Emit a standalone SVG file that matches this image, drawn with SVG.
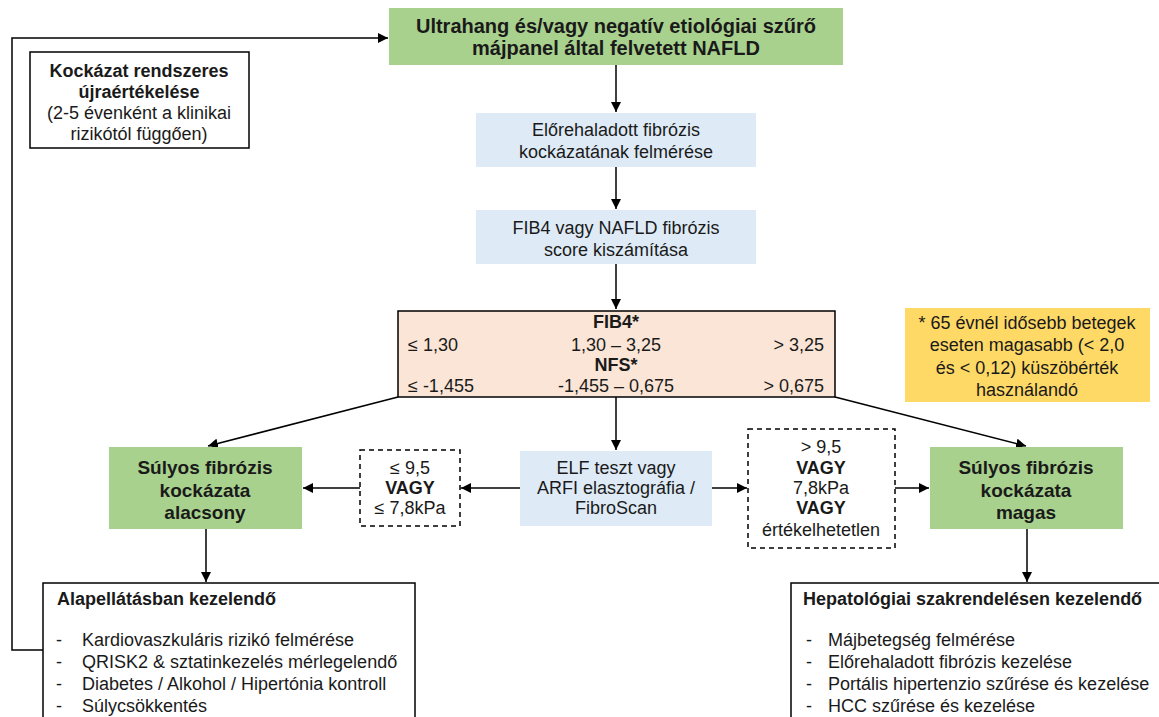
<svg xmlns="http://www.w3.org/2000/svg" width="1159" height="717" viewBox="0 0 1159 717">
<defs>
<marker id="ah" viewBox="0 0 10 10" refX="10" refY="5" markerWidth="10" markerHeight="10" markerUnits="userSpaceOnUse" orient="auto">
<path d="M0,0 L10,5 L0,10 z" fill="#000"/>
</marker>
<style>
text{font-family:"Liberation Sans",Arial,sans-serif;fill:#1a1a1a;}
.t{font-size:18px;}
.h{font-size:19px;font-weight:bold;}
.b{font-weight:bold;}
.c{text-anchor:middle;}
.g{fill:#a9d18e;}
.lb{fill:#deebf7;}
.w{fill:#fff;stroke:#000;stroke-width:1.5;}
.d{fill:#fff;stroke:#000;stroke-width:1.5;stroke-dasharray:5,4;}
.ln{fill:none;stroke:#000;stroke-width:1.5;}
</style>
</defs>
<rect width="1159" height="717" fill="#fff"/>
<g id="connectors">
<path class="ln" d="M43,650 H12 V38 H388" marker-end="url(#ah)"/>
<path class="ln" d="M616,65 V112" marker-end="url(#ah)"/>
<path class="ln" d="M616,167 V209" marker-end="url(#ah)"/>
<path class="ln" d="M616,264 V309" marker-end="url(#ah)"/>
<path class="ln" d="M398,397 L208,446" marker-end="url(#ah)"/>
<path class="ln" d="M835,397 L1026,446" marker-end="url(#ah)"/>
<path class="ln" d="M616,397 V450" marker-end="url(#ah)"/>
<path class="ln" d="M520,488 H461" marker-end="url(#ah)"/>
<path class="ln" d="M360,488 H303" marker-end="url(#ah)"/>
<path class="ln" d="M712,488 H747" marker-end="url(#ah)"/>
<path class="ln" d="M895,488 H929" marker-end="url(#ah)"/>
<path class="ln" d="M206,529 V582" marker-end="url(#ah)"/>
<path class="ln" d="M1027,529 V582" marker-end="url(#ah)"/>
</g>
<g id="n-top">
<rect class="g" x="389" y="8" width="454" height="57"/>
<text class="c" x="616" y="33" font-size="20" font-weight="bold">Ultrahang és/vagy negatív etiológiai szűrő</text>
<text class="c" x="616" y="55" font-size="20" font-weight="bold">májpanel által felvetett NAFLD</text>
</g>
<g id="n-kockazat">
<rect class="w" x="30" y="52" width="219" height="96"/>
<text class="t b c" x="139" y="77">Kockázat rendszeres</text>
<text class="t b c" x="139" y="98">újraértékelése</text>
<text class="t c" x="139" y="119">(2-5 évenként a klinikai</text>
<text class="t c" x="139" y="140">rizikótól függően)</text>
</g>
<g id="n-elorehaladott">
<rect class="lb" x="476" y="113" width="280" height="54"/>
<text class="t c" x="616" y="136">Előrehaladott fibrózis</text>
<text class="t c" x="616" y="158">kockázatának felmérése</text>
</g>
<g id="n-fib4calc">
<rect class="lb" x="476" y="210" width="280" height="54"/>
<text class="t c" x="616" y="234">FIB4 vagy NAFLD fibrózis</text>
<text class="t c" x="616" y="256">score kiszámítása</text>
</g>
<g id="n-fib4">
<rect x="398" y="311" width="437" height="86" fill="#fbe5d6" stroke="#000" stroke-width="1.5"/>
<text class="t b c" x="616" y="328">FIB4*</text>
<text class="t" x="408" y="351">≤ 1,30</text>
<text class="t c" x="616" y="351">1,30 – 3,25</text>
<text class="t" x="824" y="351" text-anchor="end">&gt; 3,25</text>
<text class="t b c" x="616" y="371">NFS*</text>
<text class="t" x="408" y="392">≤ -1,455</text>
<text class="t c" x="616" y="392">-1,455 – 0,675</text>
<text class="t" x="824" y="392" text-anchor="end">&gt; 0,675</text>
</g>
<g id="n-note">
<rect x="905" y="308" width="245" height="94" fill="#ffd966"/>
<text class="t c" x="1027" y="329">* 65 évnél idősebb betegek</text>
<text class="t c" x="1027" y="351">eseten magasabb (&lt; 2,0</text>
<text class="t c" x="1027" y="374">és &lt; 0,12) küszöbérték</text>
<text class="t c" x="1027" y="396">használandó</text>
</g>
<g id="n-low">
<rect class="g" x="109" y="447" width="193" height="82"/>
<text class="h c" x="205" y="474">Súlyos fibrózis</text>
<text class="h c" x="205" y="497">kockázata</text>
<text class="h c" x="205" y="519">alacsony</text>
</g>
<g id="n-dlow">
<rect class="d" x="360" y="450" width="100" height="76"/>
<text class="t c" x="410" y="474">≤ 9,5</text>
<text class="t b c" x="410" y="494">VAGY</text>
<text class="t c" x="410" y="514">≤ 7,8kPa</text>
</g>
<g id="n-elf">
<rect class="lb" x="520" y="451" width="192" height="75"/>
<text class="t c" x="616" y="474">ELF teszt vagy</text>
<text class="t c" x="616" y="494">ARFI elasztográfia /</text>
<text class="t c" x="616" y="514">FibroScan</text>
</g>
<g id="n-dhigh">
<rect class="d" x="748" y="429" width="147" height="119"/>
<text class="t c" x="821" y="453">&gt; 9,5</text>
<text class="t b c" x="821" y="474">VAGY</text>
<text class="t c" x="821" y="494">7,8kPa</text>
<text class="t b c" x="821" y="514">VAGY</text>
<text class="t c" x="821" y="536">értékelhetetlen</text>
</g>
<g id="n-high">
<rect class="g" x="930" y="447" width="193" height="82"/>
<text class="h c" x="1026" y="474">Súlyos fibrózis</text>
<text class="h c" x="1026" y="497">kockázata</text>
<text class="h c" x="1026" y="519">magas</text>
</g>
<g id="n-alap">
<rect class="w" x="43" y="583" width="372" height="140"/>
<text class="t b" x="57" y="605">Alapellátásban kezelendő</text>
<text class="t" x="56" y="646">-</text><text class="t" x="82" y="646">Kardiovaszkuláris rizikó felmérése</text>
<text class="t" x="56" y="668">-</text><text class="t" x="82" y="668">QRISK2 &amp; sztatinkezelés mérlegelendő</text>
<text class="t" x="56" y="690">-</text><text class="t" x="82" y="690">Diabetes / Alkohol / Hipertónia kontroll</text>
<text class="t" x="56" y="712">-</text><text class="t" x="82" y="712">Súlycsökkentés</text>
</g>
<g id="n-hepa">
<rect class="w" x="791" y="583" width="380" height="140"/>
<text class="t b" x="803" y="605">Hepatológiai szakrendelésen kezelendő</text>
<text class="t" x="806" y="646">-</text><text class="t" x="828" y="646">Májbetegség felmérése</text>
<text class="t" x="806" y="668">-</text><text class="t" x="828" y="668">Előrehaladott fibrózis kezelése</text>
<text class="t" x="806" y="690">-</text><text class="t" x="828" y="690">Portális hipertenzio szűrése és kezelése</text>
<text class="t" x="806" y="712">-</text><text class="t" x="828" y="712">HCC szűrése és kezelése</text>
</g>
</svg>
